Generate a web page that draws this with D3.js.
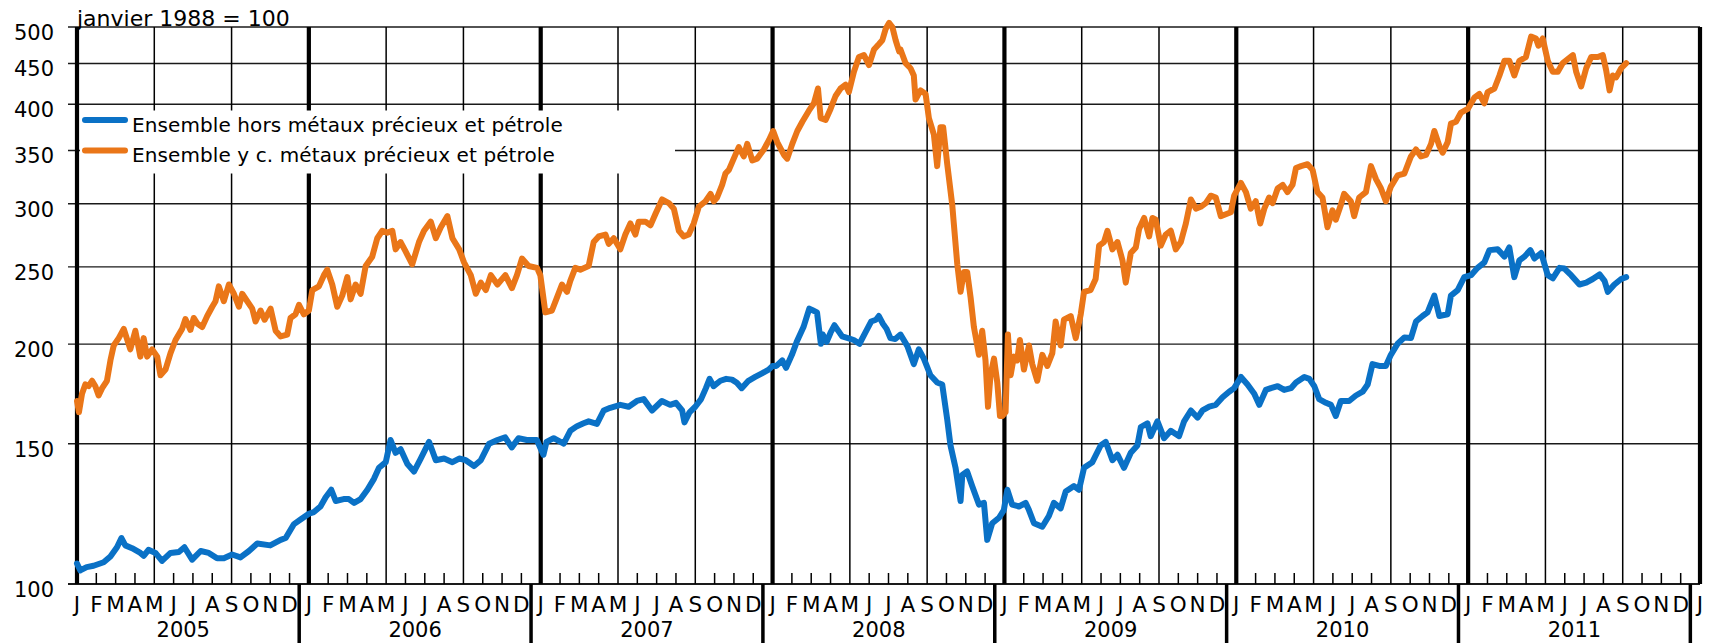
<!DOCTYPE html>
<html lang="fr">
<head>
<meta charset="UTF-8">
<title>Prix des matières premières importées</title>
<script src="https://d3js.org/d3.v7.min.js"></script>
<style>
  body { margin: 0; background: #fff; }
  svg text { font-family: "Comic Sans MS", "DejaVu Sans", sans-serif; fill: #000; }
</style>
</head>
<body>
<svg width="1712" height="643"></svg>
<script>
// data: [months since janvier 2005, index value (janvier 1988 = 100)]
const years = [2005, 2006, 2007, 2008, 2009, 2010, 2011];
const monthLetters = ["J", "F", "M", "A", "M", "J", "J", "A", "S", "O", "N", "D"];
const yTicks = [100, 150, 200, 250, 300, 350, 400, 450, 500];
const seriesNames = ["Ensemble hors métaux précieux et pétrole", "Ensemble y c. métaux précieux et pétrole"];
const seriesColors = ["#0A71C6", "#EA7618"];

const horsMetaux = [
  [0,106.1],[0.17,104],[0.5,105],[0.86,105.4],[1.38,106.5],[1.73,108.3],[2.07,111.2],[2.3,114.2],[2.5,111.8],[2.85,110.9],
  [3.28,109.4],[3.45,108.5],[3.7,110.4],[4.06,109.4],[4.4,106.9],[4.84,109.4],[5.27,109.7],[5.56,111.2],[5.96,107.3],[6.4,110],
  [6.82,109.4],[7.25,107.7],[7.6,107.7],[8.03,108.9],[8.46,108],[8.9,110],[9.33,112.4],[10.0,111.8],[10.54,113.6],[10.8,114.2],
  [11.23,118.9],[11.57,120.5],[12.0,122.5],[12.26,123.1],[12.6,125.1],[12.87,128.5],[13.16,131.3],[13.39,127.1],[13.8,127.8],
  [14.07,127.8],[14.34,126.4],[14.68,127.8],[15.03,131.3],[15.37,135.5],[15.63,139.9],[15.98,142.2],[16.23,151.6],[16.49,146.1],
  [16.75,147.6],[17.1,141.4],[17.44,138.4],[17.79,143.7],[18.22,150.8],[18.57,143],[19.0,143.7],[19.43,142.2],[19.78,143.7],
  [20.12,143],[20.55,140.6],[20.9,143],[21.33,150],[21.76,151.6],[22.16,152.8],[22.5,148.4],[22.85,152.4],[23.28,151.6],
  [23.8,151.6],[24.14,145.3],[24.3,150.8],[24.67,152.4],[25.19,150],[25.53,155.7],[25.88,157.8],[26.22,159.1],[26.48,160],
  [26.91,158.8],[27.26,165.1],[27.6,166.4],[28.12,167.8],[28.55,166.9],[28.98,169.7],[29.33,170.6],[29.76,165.1],[30.27,169.7],
  [30.7,167.8],[31.0,168.8],[31.32,165.1],[31.44,159.5],[31.7,164.2],[32.0,166.9],[32.3,170.6],[32.55,176.1],[32.74,180.9],
  [32.95,177.1],[33.3,179.9],[33.6,180.9],[33.9,180.5],[34.15,178.9],[34.4,176.1],[34.75,179.9],[35.1,181.9],[35.45,183.8],
  [35.8,185.8],[36.0,187.8],[36.2,187.8],[36.5,190.8],[36.7,186.8],[37.0,193.9],[37.25,201.3],[37.6,210.1],[37.9,221.6],
  [38.1,220.4],[38.3,219.2],[38.5,200.2],[38.6,205.6],[38.8,201.3],[39.0,206.7],[39.2,211.2],[39.6,204.5],[39.9,203.5],
  [40.2,202.4],[40.5,200.2],[40.8,206.7],[41.1,213.5],[41.35,214.6],[41.5,216.9],[41.7,212.3],[41.9,209],[42.1,203.5],
  [42.35,203],[42.62,205.6],[42.97,199],[43.31,188.8],[43.57,197],[43.83,191.8],[44.17,182.8],[44.52,179],[44.78,178],
  [45.04,160.8],[45.21,149.2],[45.47,139.9],[45.73,127.1],[45.82,137],[46.07,138.4],[46.33,132.7],[46.68,125.8],[46.94,126.4],
  [47.11,113.6],[47.37,119.2],[47.72,121.1],[47.97,123.8],[48.15,131.3],[48.4,125.8],[48.75,125.1],[49.1,126.4],[49.27,123.8],
  [49.53,119.2],[49.96,118],[50.3,121.7],[50.56,126.4],[50.91,124.4],[51.17,130.6],[51.6,132.7],[51.86,131.3],[52.12,139.9],
  [52.55,142.2],[52.98,149.2],[53.24,150.8],[53.59,143],[53.85,145.3],[54.19,139.9],[54.54,146.1],[54.88,149.2],[55.06,157.4],
  [55.4,159.1],[55.57,153.3],[55.92,160],[56.26,152.4],[56.61,155.7],[57.04,153.3],[57.3,160],[57.65,165.1],[58.0,161.7],
  [58.25,165.1],[58.6,166.9],[58.94,167.8],[59.29,171.5],[59.63,174.3],[59.89,176.1],[60.24,181.9],[60.58,178],[60.93,173.3],
  [61.19,167.8],[61.53,175.2],[61.79,176.1],[62.14,177.1],[62.48,175.2],[62.83,176.1],[63.09,179],[63.52,181.9],[63.78,180.9],
  [64.04,177.1],[64.29,170.6],[64.64,168.8],[64.9,167.8],[65.15,162.5],[65.41,169.7],[65.84,169.7],[66.19,172.4],[66.54,174.3],
  [66.8,178],[67.05,188.8],[67.4,187.8],[67.74,187.8],[68.0,193.9],[68.35,200.2],[68.7,203.9],[69.04,203.5],[69.3,213.5],
  [69.64,216.9],[69.9,219.2],[70.25,230.1],[70.51,216.9],[70.94,218],[71.11,230.1],[71.46,233.8],[71.8,242.7],[72.15,244.1],
  [72.49,249.3],[72.84,253.3],[73.1,262.4],[73.53,263],[73.88,257.5],[74.13,264.4],[74.39,242.7],[74.65,254.7],[74.91,257.5],
  [75.22,262.4],[75.43,256.1],[75.78,260.2],[76.12,244.1],[76.38,241.9],[76.73,249.3],[76.98,248.8],[77.33,244.1],[77.76,237.6],
  [78.11,238.9],[78.45,241.4],[78.8,244.6],[79.06,240.1],[79.23,232.6],[79.57,237.6],[79.92,241.4],[80.18,242.7]
];

const avecMetaux = [
  [0,169.7],[0.1,164.3],[0.26,173.3],[0.43,178],[0.6,177.1],[0.78,179.9],[0.95,177.1],[1.12,172.4],[1.3,176.1],[1.55,179.9],
  [1.73,190.8],[1.9,199.2],[2.16,203.5],[2.42,209],[2.76,197],[3.02,207.9],[3.28,192.9],[3.45,203.5],[3.63,192.9],[3.89,197],
  [4.15,192.9],[4.32,182.8],[4.58,185.8],[4.84,194.9],[5.1,202.4],[5.44,209],[5.61,215],[5.87,208.4],[6.04,215.7],[6.22,212.3],
  [6.48,210.1],[6.74,216.9],[7.0,222.8],[7.17,226.4],[7.34,236.3],[7.6,226.4],[7.86,237.6],[8.12,231.3],[8.38,222.8],[8.55,231.3],
  [8.81,226.4],[9.07,221.6],[9.24,213.5],[9.5,220.4],[9.71,214.6],[10.02,221.6],[10.28,207.9],[10.54,204.5],[10.88,205.6],
  [11.05,215.7],[11.31,218],[11.49,224],[11.74,218],[12.0,220.4],[12.18,233.8],[12.52,236.3],[12.78,244.1],[12.95,248],
  [13.21,237.6],[13.47,222.8],[13.73,230.1],[13.99,242.7],[14.16,227.6],[14.42,237.6],[14.68,231.3],[14.94,250.6],[15.28,257.5],
  [15.54,271.6],[15.8,277.5],[16.06,276],[16.32,277.5],[16.49,263],[16.75,268.6],[17.0,261.6],[17.35,251.8],[17.7,268.6],
  [17.96,277.5],[18.31,284.9],[18.57,271.6],[18.83,280.4],[19.17,289.5],[19.43,271.6],[19.78,263],[20.03,253.3],[20.38,244.1],
  [20.64,231.3],[20.9,238.9],[21.16,233.8],[21.42,244.1],[21.76,237.6],[22.17,244.1],[22.51,235.1],[22.77,244.1],[23.03,256.1],
  [23.37,250.6],[23.81,249.3],[23.98,244.1],[24.24,219.2],[24.58,220.4],[24.84,228.8],[25.1,237.6],[25.36,232.6],[25.53,240.1],
  [25.79,249.3],[26.05,248],[26.48,250.6],[26.74,268.6],[27.0,273],[27.35,274.5],[27.52,267.2],[27.78,271.6],[28.12,263],
  [28.38,274.5],[28.64,283.4],[28.9,274.5],[29.07,284.9],[29.42,284.9],[29.68,281.9],[29.93,291.1],[30.28,303.8],[30.63,300.6],
  [30.89,295.8],[31.15,277.5],[31.4,273],[31.66,274.5],[31.92,283.4],[32.18,297.4],[32.53,302.2],[32.79,308.7],[32.96,302.2],
  [33.13,305.5],[33.39,316.9],[33.56,327.4],[33.74,330.9],[33.99,341.8],[34.25,353.4],[34.51,344],[34.69,356.7],[34.95,340],
  [35.2,341.8],[35.55,351],[35.81,360.5],[36.03,370.2],[36.24,358.5],[36.59,345.5],[36.76,341.8],[37.02,356.7],[37.28,370.2],
  [37.54,380.3],[37.88,392.6],[38.14,401.1],[38.35,418.6],[38.49,384.3],[38.75,382.3],[39.0,394.6],[39.26,409.6],[39.52,418.6],
  [39.78,423.2],[39.95,414.3],[40.21,439.3],[40.47,458.4],[40.73,461],[40.99,447.9],[41.25,468.5],[41.51,476],[41.68,481.2],
  [41.85,497],[42.03,506],[42.2,500],[42.37,481.2],[42.55,466],[42.62,468.5],[42.88,450.5],[43.14,443.8],[43.31,434.6],
  [43.4,405.6],[43.66,416.3],[43.92,412],[44.09,384.3],[44.35,366.3],[44.52,334.5],[44.69,374.2],[44.83,374.2],[45.04,336.4],
  [45.3,298.9],[45.38,283.4],[45.56,251.9],[45.73,232.6],[45.9,246.4],[46.07,246.4],[46.25,228.8],[46.42,210.1],[46.68,193.9],
  [46.85,207.9],[47.02,190.8],[47.15,166.9],[47.28,182.8],[47.46,191.8],[47.63,179],[47.77,162.5],[47.89,162.5],[48.06,164.3],
  [48.18,205.6],[48.32,182.8],[48.49,192.9],[48.66,190.8],[48.8,202.4],[49.01,185.8],[49.27,199.2],[49.44,188.8],[49.7,179.9],
  [49.96,193.9],[50.22,187.8],[50.48,194.9],[50.65,213.5],[50.91,199.2],[51.08,214.6],[51.43,216.9],[51.69,203.5],[51.95,218],
  [52.12,232.6],[52.46,233.8],[52.72,241.4],[52.9,265.8],[53.15,268.6],[53.33,277.5],[53.59,263],[53.85,268.6],[54.11,254.7],
  [54.28,238.9],[54.54,260.2],[54.8,264.4],[54.97,278.9],[55.23,288],[55.49,273],[55.66,288],[55.83,286.5],[56.09,265.8],
  [56.35,274.5],[56.61,277.5],[56.87,263],[57.13,268.6],[57.39,283.4],[57.65,303.8],[57.91,295.8],[58.16,297.4],[58.42,300.6],
  [58.68,307.1],[58.94,305.5],[59.2,289.5],[59.46,291.1],[59.72,292.7],[59.89,307.1],[60.24,318.7],[60.5,310.3],[60.75,295.8],
  [61.01,302.2],[61.24,283.4],[61.45,295.8],[61.7,305.5],[61.88,300.6],[62.14,313.6],[62.4,316.9],[62.65,310.3],[62.91,316.9],
  [63.09,332.7],[63.35,334.5],[63.69,336.4],[63.95,330.9],[64.2,310.3],[64.46,305.5],[64.72,280.4],[64.98,294.3],[65.15,286.5],
  [65.41,298.9],[65.58,308.7],[65.93,302.2],[66.1,289.5],[66.36,305.5],[66.71,310.3],[66.97,334.5],[67.23,322.2],[67.49,313.6],
  [67.74,302.2],[68.0,315.3],[68.35,325.6],[68.7,327.4],[69.04,344],[69.3,351],[69.56,344],[69.82,345.5],[70.08,356.7],
  [70.25,370.2],[70.51,354.5],[70.68,347.7],[70.94,358.5],[71.11,378.2],[71.37,380.3],[71.63,390.5],[71.98,394.6],[72.32,407.6],
  [72.58,412],[72.84,401.1],[73.01,414.3],[73.36,418.6],[73.62,434.6],[73.88,453.5],[74.13,453.5],[74.39,434.6],[74.65,453.5],
  [74.99,458.4],[75.26,486.3],[75.51,483.7],[75.64,473.6],[75.86,483.7],[76.12,453.5],[76.38,439.3],[76.64,439.3],[76.9,450.5],
  [77.16,455.8],[77.42,461],[77.59,439.3],[77.85,421],[78.11,443.8],[78.37,458.4],[78.71,458.4],[78.97,461],[79.14,441.6],
  [79.32,416.3],[79.49,434.6],[79.66,432.3],[79.92,443.8],[80.18,450.5]
];

const svg = d3.select("svg");
const nMonths = years.length * 12;

const x = d3.scaleLinear().domain([0, nMonths]).range([77, 1700]);
const y = d3.scaleLog().domain([100, 500]).range([584, 27]);

// horizontal grid (also acts as y ticks, starting left of the axis)
svg.append("g").selectAll("line")
  .data(yTicks)
  .join("line")
  .attr("x1", 68).attr("x2", x(nMonths))
  .attr("y1", d => y(d)).attr("y2", d => y(d))
  .attr("stroke", "#1a1a1a")
  .attr("stroke-width", d => d === 100 ? 2 : 1.4);

svg.append("g").selectAll("text")
  .data(yTicks)
  .join("text")
  .attr("x", 54)
  .attr("y", d => y(d) + 6)
  .attr("text-anchor", "end")
  .attr("dominant-baseline", "central")
  .style("font-size", "21px")
  .text(d => d);

// vertical lines: years thick, every 4 months thin, otherwise small ticks
const months = d3.range(0, nMonths + 1);
svg.append("g").selectAll("line")
  .data(months)
  .join("line")
  .attr("x1", d => x(d)).attr("x2", d => x(d))
  .attr("y1", d => d % 4 === 0 ? y(500) : y(100) - 11)
  .attr("y2", y(100))
  .attr("stroke", "#000")
  .attr("stroke-width", d => d % 12 === 0 ? 4.2 : 1.5);

// x labels
svg.append("g").selectAll("text")
  .data(months)
  .join("text")
  .attr("x", d => x(d))
  .attr("y", 612)
  .attr("text-anchor", "middle")
  .style("font-size", "21.5px")
  .text(d => monthLetters[d % 12]);

svg.append("g").selectAll("line")
  .data(d3.range(1, years.length + 1))
  .join("line")
  .attr("x1", d => x(d * 12 - 0.5)).attr("x2", d => x(d * 12 - 0.5))
  .attr("y1", y(100)).attr("y2", 643)
  .attr("stroke", "#000")
  .attr("stroke-width", 3.5);

svg.append("g").selectAll("text")
  .data(years)
  .join("text")
  .attr("x", (d, i) => x(i * 12 + 5.5))
  .attr("y", 637)
  .attr("text-anchor", "middle")
  .style("font-size", "21px")
  .text(d => d);

// title
svg.append("text")
  .attr("x", 77)
  .attr("y", 26)
  .style("font-size", "22px")
  .text("janvier 1988 = 100");

// legend
const legend = svg.append("g");
legend.append("rect")
  .attr("x", 80).attr("y", 110.5)
  .attr("width", 595).attr("height", 63)
  .attr("fill", "#fff");

seriesNames.forEach((name, i) => {
  const ly = 120 + i * 30.5;
  legend.append("line")
    .attr("x1", 85).attr("x2", 125)
    .attr("y1", ly).attr("y2", ly)
    .attr("stroke", seriesColors[i])
    .attr("stroke-width", 6)
    .attr("stroke-linecap", "round");
  legend.append("text")
    .attr("x", 132)
    .attr("y", ly + 11.5)
    .style("font-size", "20px")
    .style("letter-spacing", "0.1px")
    .text(name);
});

// series
const line = d3.line()
  .x(d => x(d[0]))
  .y(d => y(d[1]));

[horsMetaux, avecMetaux].forEach((s, i) => {
  svg.append("path")
    .datum(s)
    .attr("d", line)
    .attr("fill", "none")
    .attr("stroke", seriesColors[i])
    .attr("stroke-width", 6)
    .attr("stroke-linejoin", "round")
    .attr("stroke-linecap", "round");
});
</script>
</body>
</html>
